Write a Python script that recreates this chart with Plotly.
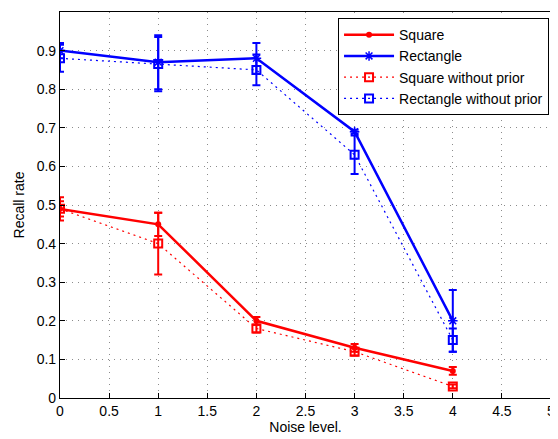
import plotly.graph_objects as go

noise = [0, 1, 2, 3, 4]
square = [0.49, 0.45, 0.20, 0.13, 0.07]
square_err = [0.03, 0.03, 0.01, 0.01, 0.01]
rect = [0.90, 0.87, 0.88, 0.69, 0.20]
rect_err = [0.02, 0.07, 0.04, 0.005, 0.08]
square_np = [0.49, 0.40, 0.18, 0.12, 0.03]
square_np_err = [0.02, 0.08, 0.01, 0.01, 0.005]
rect_np = [0.88, 0.865, 0.85, 0.63, 0.15]
rect_np_err = [0.035, 0.07, 0.04, 0.05, 0.03]

xticks = [0, 0.5, 1, 1.5, 2, 2.5, 3, 3.5, 4, 4.5, 5]
yticks = [0, 0.1, 0.2, 0.3, 0.4, 0.5, 0.6, 0.7, 0.8, 0.9, 1]

RED = "#ff0000"
BLUE = "#0000ff"

fig = go.Figure()
fig.add_trace(go.Scatter(
    x=noise, y=square, name="Square", mode="lines+markers",
    line=dict(color=RED, width=2.5),
    marker=dict(symbol="circle", size=6, color=RED),
    error_y=dict(type="data", array=square_err, color=RED, thickness=2, width=4),
))
fig.add_trace(go.Scatter(
    x=noise, y=rect, name="Rectangle", mode="lines+markers",
    line=dict(color=BLUE, width=2.5),
    marker=dict(symbol="asterisk-open", size=8, color=BLUE, line=dict(width=1.5, color=BLUE)),
    error_y=dict(type="data", array=rect_err, color=BLUE, thickness=2, width=4),
))
fig.add_trace(go.Scatter(
    x=noise, y=square_np, name="Square without prior", mode="lines+markers",
    line=dict(color=RED, width=1.2, dash="2px,4px"),
    marker=dict(symbol="square-open", size=8, color=RED, line=dict(width=2, color=RED)),
    error_y=dict(type="data", array=square_np_err, color=RED, thickness=2, width=4),
))
fig.add_trace(go.Scatter(
    x=noise, y=rect_np, name="Rectangle without prior", mode="lines+markers",
    line=dict(color=BLUE, width=1.2, dash="2px,4px"),
    marker=dict(symbol="square-open", size=8, color=BLUE, line=dict(width=2, color=BLUE)),
    error_y=dict(type="data", array=rect_np_err, color=BLUE, thickness=2, width=4),
))

axis_common = dict(
    showline=True, linecolor="black", linewidth=1.2, mirror=True,
    ticks="inside", ticklen=5, tickcolor="black",
    showgrid=True, gridcolor="#8c8c8c", griddash="1px,5px", gridwidth=1,
    zeroline=False, tickfont=dict(size=14, color="black"), automargin=False,
)

fig.update_layout(
    width=558, height=439,
    margin=dict(l=52, r=15, t=4, b=49),
    paper_bgcolor="white", plot_bgcolor="white",
    font=dict(family="Liberation Sans, Arial, sans-serif", size=14, color="black"),
    xaxis=dict(range=[0, 5], tickvals=xticks, ticktext=[str(t) for t in xticks],
               title=dict(text="Noise level.", standoff=2, font=dict(size=14)), **axis_common),
    yaxis=dict(range=[0, 1], tickvals=yticks, ticktext=[str(t) for t in yticks],
               title=dict(text="Recall rate", standoff=8, font=dict(size=14)), **axis_common),
    legend=dict(x=0.996, y=0.984, xanchor="right", yanchor="top",
                bgcolor="white", bordercolor="black", borderwidth=1,
                font=dict(size=14), tracegroupgap=0, itemwidth=50),
    showlegend=True,
)

fig.write_html("out.html")
